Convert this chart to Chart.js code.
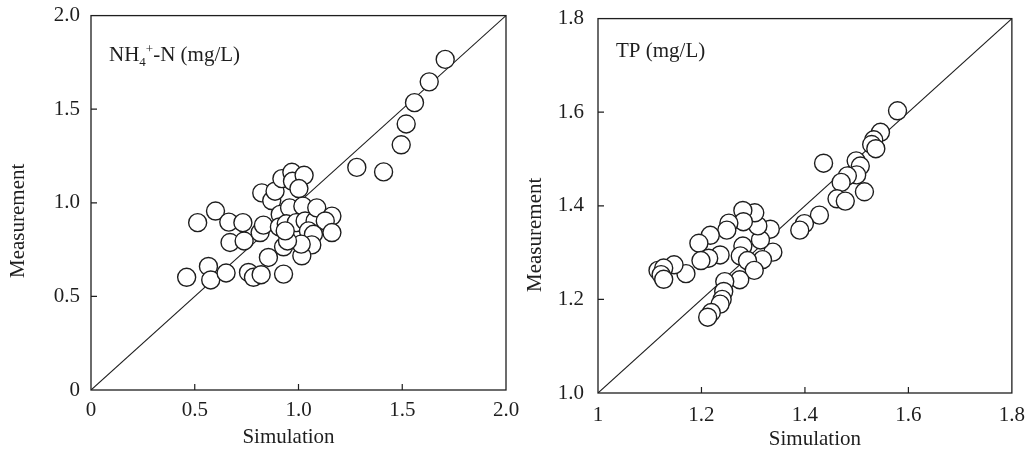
<!DOCTYPE html>
<html><head><meta charset="utf-8">
<script src="https://cdn.jsdelivr.net/npm/chart.js@4.4.1/dist/chart.umd.min.js"></script>
<style>
html,body{margin:0;padding:0;background:#fff;width:1027px;height:452px;overflow:hidden}
canvas{position:absolute;top:0}
#c1{left:0}
#c2{left:510px}
</style></head><body>
<canvas id="c1" width="520" height="452"></canvas>
<canvas id="c2" width="517" height="452"></canvas>
<script>
// ---- NH4+-N panel ----
const nhSim  = [1.707,1.630,1.559,1.519,1.495,1.281,1.410,0.461,0.566,0.577,0.651,0.514,0.600,0.664,0.732,0.670,0.738,0.759,0.783,0.820,0.928,0.855,0.815,0.831,0.823,0.871,0.887,0.920,0.968,0.971,1.027,1.002,0.912,0.957,1.021,0.908,0.941,0.989,1.032,1.080,1.088,1.161,1.129,1.161,1.048,1.072,1.064,1.016,1.013,0.928,0.947,0.936];
const nhMeas = [1.766,1.646,1.535,1.421,1.310,1.189,1.165,0.602,0.660,0.588,0.625,0.894,0.956,0.897,0.894,0.788,0.796,0.628,0.602,0.616,0.619,0.708,0.841,0.881,1.053,1.012,1.062,1.129,1.163,1.115,1.147,1.076,0.938,0.973,0.982,0.871,0.888,0.894,0.903,0.903,0.973,0.929,0.903,0.841,0.850,0.832,0.775,0.717,0.779,0.765,0.796,0.850];
const nhRange = [0, 2];
const nhStep = 0.5;
const nhXTicks = ['0','0.5','1.0','1.5','2.0'];
const nhYTicks = ['0','0.5','1.0','1.5','2.0'];
const nhLabel = [{t:'NH'},{t:'4',sub:true},{t:'+',sup:true},{t:'-N (mg/L)'}];

// ---- TP panel ----
const tpSim  = [1.579,1.546,1.533,1.529,1.537,1.436,1.499,1.507,1.500,1.482,1.470,1.462,1.478,1.515,1.428,1.399,1.390,1.333,1.338,1.318,1.314,1.309,1.303,1.280,1.281,1.280,1.275,1.289,1.302,1.274,1.253,1.249,1.236,1.217,1.195,1.214,1.199,1.245,1.243,1.240,1.236,1.219,1.212,1.170,1.147,1.116,1.127,1.122,1.127];
const tpMeas = [1.603,1.557,1.541,1.531,1.522,1.491,1.496,1.485,1.466,1.464,1.450,1.415,1.410,1.430,1.380,1.362,1.348,1.350,1.301,1.285,1.327,1.357,1.385,1.390,1.366,1.314,1.293,1.283,1.262,1.242,1.363,1.348,1.295,1.337,1.320,1.288,1.283,1.238,1.217,1.200,1.190,1.172,1.162,1.255,1.274,1.262,1.267,1.253,1.243];
const tpRange = [1, 1.8];
const tpStep = 0.2;
const tpXTicks = ['1','1.2','1.4','1.6','1.8'];
const tpYTicks = ['1.0','1.2','1.4','1.6','1.8'];
const tpLabel = [{t:'TP (mg/L)'}];

const xTitle = 'Simulation';
const yTitle = 'Measurement';

const FONT = '"Liberation Serif","Times New Roman",serif';
const INK = '#1e1e1e';

const framePlugin = {
  id: 'frame',
  afterDatasetsDraw(chart, args, o) {
    const {ctx, chartArea: a, scales: {x, y}} = chart;
    ctx.save();
    ctx.strokeStyle = INK;
    ctx.lineWidth = 1.3;
    ctx.strokeRect(a.left, a.top, a.right - a.left, a.bottom - a.top);
    ctx.lineWidth = 1.2;
    ctx.beginPath();
    x.ticks.forEach(t => {
      if (t.value > x.min + 1e-9 && t.value < x.max - 1e-9) {
        const px = x.getPixelForValue(t.value);
        ctx.moveTo(px, a.bottom); ctx.lineTo(px, a.bottom - 6);
      }
    });
    y.ticks.forEach(t => {
      if (t.value > y.min + 1e-9 && t.value < y.max - 1e-9) {
        const py = y.getPixelForValue(t.value);
        ctx.moveTo(a.left, py); ctx.lineTo(a.left + 6, py);
      }
    });
    ctx.stroke();
    ctx.fillStyle = INK;
    ctx.font = '21px ' + FONT;
    ctx.textAlign = 'center';
    ctx.textBaseline = 'middle';
    ctx.fillText(xTitle, (a.left + a.right) / 2 + o.xdx, o.xy);
    ctx.save();
    ctx.translate(o.yx, (a.top + a.bottom) / 2 + o.ydy);
    ctx.rotate(-Math.PI / 2);
    ctx.fillText(yTitle, 0, 0);
    ctx.restore();
    ctx.textAlign = 'left';
    ctx.textBaseline = 'alphabetic';
    let cx = a.left + o.lx;
    const by = a.top + o.ly;
    o.label.forEach(s => {
      let dy = 0, size = 21;
      if (s.sub) { size = 13; dy = 5; }
      if (s.sup) { size = 13; dy = -8; }
      ctx.font = size + 'px ' + FONT;
      ctx.fillText(s.t, cx, by + dy);
      cx += ctx.measureText(s.t).width;
    });
    ctx.restore();
  }
};

function makeChart(id, sim, meas, range, step, xt, yt, geo) {
  const pts = sim.map((v, i) => ({x: v, y: meas[i]}));
  new Chart(document.getElementById(id), {
    type: 'scatter',
    data: {
      datasets: [
        {type: 'line', data: [{x: range[0], y: range[0]}, {x: range[1], y: range[1]}],
         borderColor: INK, borderWidth: 1.1, pointRadius: 0, fill: false, order: 2},
        {data: pts, backgroundColor: '#ffffff', borderColor: INK, borderWidth: 1.4,
         pointRadius: 9, pointHoverRadius: 9, order: 1}
      ]
    },
    options: {
      responsive: false, animation: false, devicePixelRatio: 1,
      layout: {padding: {left: 0, top: geo.top, right: geo.right, bottom: 0}},
      plugins: {legend: {display: false}, tooltip: {enabled: false},
        frame: {xdx: geo.xdx, xy: geo.xy, yx: geo.yx, ydy: geo.ydy, lx: geo.lx, ly: geo.ly, label: geo.label}},
      scales: {
        x: {type: 'linear', min: range[0], max: range[1],
            grid: {display: false}, border: {display: false},
            ticks: {stepSize: step, padding: geo.xpad, color: INK, maxRotation: 0,
                    font: {family: FONT, size: 21}, callback: (v, i) => xt[i]},
            afterFit: s => { s.height = geo.xh; }},
        y: {type: 'linear', min: range[0], max: range[1],
            grid: {display: false}, border: {display: false},
            ticks: {stepSize: step, padding: geo.ypad, color: INK,
                    font: {family: FONT, size: 21}, callback: (v, i) => yt[i]},
            afterFit: s => { s.width = geo.yw; }}
      }
    },
    plugins: [framePlugin]
  });
}

makeChart('c1', nhSim, nhMeas, nhRange, nhStep, nhXTicks, nhYTicks,
  {top: 13, right: 14, xh: 62, yw: 91, xpad: 0, ypad: 3, xdx: -10, xy: 437, yx: 18.5, ydy: 18, lx: 18, ly: 45, label: nhLabel});
makeChart('c2', tpSim, tpMeas, tpRange, tpStep, tpXTicks, tpYTicks,
  {top: 14, right: 15, xh: 59, yw: 88, xpad: 2, ypad: 6, xdx: 10, xy: 439, yx: 25.5, ydy: 29, lx: 18, ly: 38, label: tpLabel});
</script>
</body></html>
